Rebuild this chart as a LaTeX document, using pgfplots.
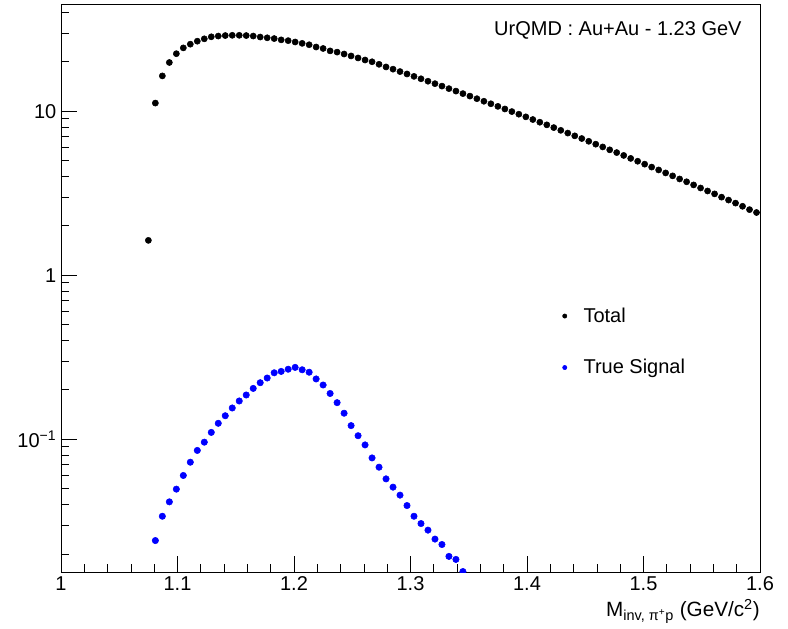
\documentclass[border=0pt]{standalone}
\usepackage{fontspec}
\setmainfont{Liberation Sans}
\usepackage{pgfplots}
\pgfplotsset{compat=1.18}
\newcommand{\lbl}{\fontsize{15}{18}\selectfont}

\begin{document}
\begin{tikzpicture}
\begin{axis}[
    scale only axis, width=524.25pt, height=426pt,
    xmin=1, xmax=1.6, ymode=log, ymin=0.0155, ymax=45,
    xtick={1,1.1,1.2,1.3,1.4,1.5,1.6}, minor x tick num=4,
    ytick={0.1,1,10}, yticklabels={10\textsuperscript{−1},1,10},
    minor ytick={0.02,0.03,0.04,0.05,0.06,0.07,0.08,0.09,
                 0.2,0.3,0.4,0.5,0.6,0.7,0.8,0.9,
                 2,3,4,5,6,7,8,9,20,30,40},
    tick align=inside, tick pos=left,
    major tick length=12pt, minor tick length=6pt,
    tick style={black, line width=0.5pt},
    axis line style={line width=0.5pt},
    font=\lbl, tick label style={font=\lbl},
    xticklabel style={/pgf/number format/assume math mode=true},
    xlabel={M\textsubscript{inv, π\textsuperscript{+}p} (GeV/c\textsuperscript{2})},
    xlabel style={at={(rel axis cs:1,0)}, anchor=north east, inner sep=0pt,
                  yshift=-20pt, font=\fontsize{15.5}{18}\selectfont},
    legend style={at={(rel axis cs:0.7115,0.475)}, anchor=north west, draw=none, fill=none,
                  font=\lbl, row sep=22.25pt,
                  /tikz/every odd column/.append style={column sep=10.5pt}},
    legend cell align=left,
    clip marker paths=true,
]
\addplot[only marks, mark=*, mark size=2.3pt, black,
         legend image post style={mark size=1.6pt}] coordinates {
 (1.075,1.63)(1.081,11.2)(1.087,16.4)(1.093,19.8)(1.099,22.4)(1.105,24.3)
 (1.111,25.6)(1.117,26.7)(1.123,27.6)(1.129,28.4)(1.135,28.7)(1.141,28.9)
 (1.147,29.0)(1.153,29.0)(1.159,28.9)(1.165,28.7)(1.171,28.3)(1.177,28.0)
 (1.183,27.7)(1.189,27.2)(1.195,26.9)(1.201,26.4)(1.207,25.9)(1.213,25.4)
 (1.219,24.6)(1.225,24.1)(1.231,23.3)(1.237,22.9)(1.243,22.3)(1.249,21.7)
 (1.255,21.1)(1.261,20.5)(1.267,20.0)(1.273,19.3)(1.279,18.6)(1.285,18.03)
 (1.291,17.43)(1.297,16.85)(1.303,16.29)(1.309,15.75)(1.315,15.22)(1.321,14.71)
 (1.327,14.21)(1.333,13.72)(1.339,13.25)(1.345,12.79)(1.351,12.35)(1.357,11.91)
 (1.363,11.49)(1.369,11.09)(1.375,10.69)(1.381,10.31)(1.387,9.94)(1.393,9.58)
 (1.399,9.23)(1.405,8.89)(1.411,8.56)(1.417,8.25)(1.423,7.94)(1.429,7.64)
 (1.435,7.35)(1.441,7.07)(1.447,6.81)(1.453,6.55)(1.459,6.29)(1.465,6.05)
 (1.471,5.81)(1.477,5.59)(1.483,5.37)(1.489,5.15)(1.495,4.95)(1.501,4.75)
 (1.507,4.56)(1.513,4.38)(1.519,4.20)(1.525,4.03)(1.531,3.86)(1.537,3.71)
 (1.543,3.55)(1.549,3.40)(1.555,3.26)(1.561,3.13)(1.567,2.99)(1.573,2.87)
 (1.579,2.75)(1.585,2.63)(1.591,2.51)(1.597,2.41)
};
\addlegendentry{Total}
\addplot[only marks, mark=*, mark size=2.4pt, blue,
         legend image post style={mark size=1.6pt}] coordinates {
 (1.081,0.0241)(1.087,0.0339)(1.093,0.0415)(1.099,0.0496)(1.105,0.0601)
 (1.111,0.0724)(1.117,0.0854)(1.123,0.0959)(1.129,0.110)(1.135,0.125)
 (1.141,0.139)(1.147,0.155)(1.153,0.171)(1.159,0.186)(1.165,0.204)
 (1.171,0.221)(1.177,0.236)(1.183,0.254)(1.189,0.259)(1.195,0.267)
 (1.201,0.274)(1.207,0.265)(1.213,0.256)(1.219,0.233)(1.225,0.214)
 (1.231,0.190)(1.237,0.167)(1.243,0.144)(1.249,0.121)(1.255,0.105)
 (1.261,0.0923)(1.267,0.0769)(1.273,0.0675)(1.279,0.0573)(1.285,0.0510)
 (1.291,0.0456)(1.297,0.0394)(1.303,0.0339)(1.309,0.0306)(1.315,0.0279)
 (1.321,0.0246)(1.327,0.0228)(1.333,0.0193)(1.339,0.0185)(1.345,0.0156)
};
\addlegendentry{True Signal}
\node[anchor=base east, inner sep=0pt] at (rel axis cs:0.974,0.945)
  {UrQMD : Au+Au - 1.23 GeV};
\end{axis}
\pgfresetboundingbox
\path (-45.75pt,-42pt) rectangle (545.25pt,429pt);
\end{tikzpicture}
\end{document}
